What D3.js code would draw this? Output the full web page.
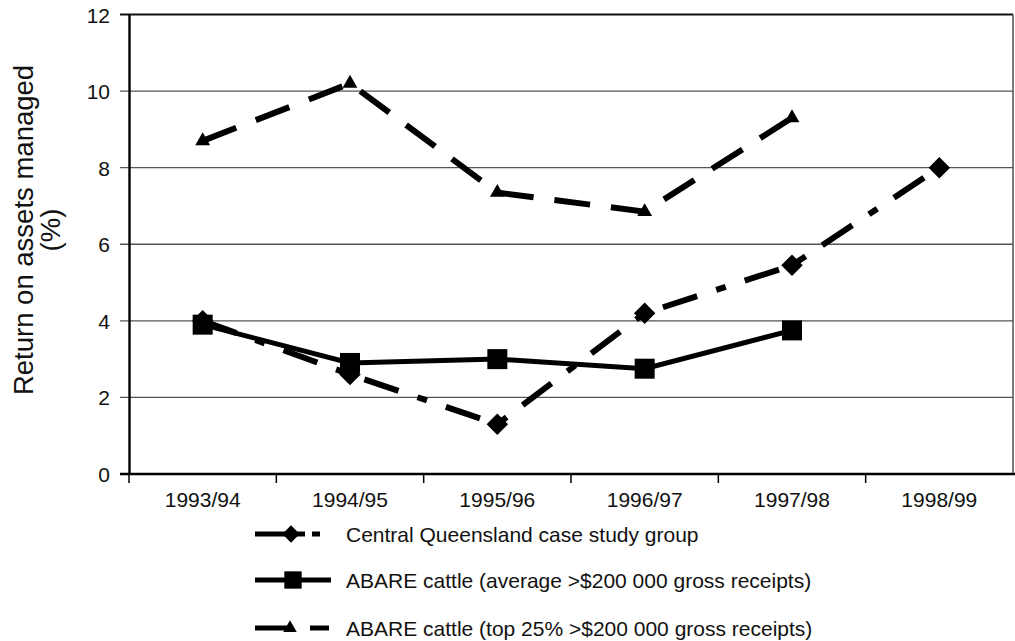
<!DOCTYPE html>
<html>
<head>
<meta charset="utf-8">
<script src="https://cdn.jsdelivr.net/npm/d3@7"></script>
<style>
  html, body { margin: 0; padding: 0; background: #fff; }
  svg { display: block; }
  text { font-family: "Liberation Sans", Arial, Helvetica, sans-serif; fill: #111; }
</style>
</head>
<body>
<svg id="chart" width="1015" height="641"></svg>
<script>
// Financial years on the category axis
const years = ["1993/94", "1994/95", "1995/96", "1996/97", "1997/98", "1998/99"];

// Return on assets managed (%) per year; null = no figure for that year
const centralQld = [4.0, 2.6, 1.3, 4.2, 5.45, 8.0];
const abareAverage = [3.9, 2.9, 3.0, 2.75, 3.75, null];
const abareTop25 = [8.7, 10.2, 7.35, 6.85, 9.3, null];

const yTicks = [0, 2, 4, 6, 8, 10, 12];

const seriesNames = [
  "Central Queensland case study group",
  "ABARE cattle (average >$200 000 gross receipts)",
  "ABARE cattle (top 25% >$200 000 gross receipts)"
];

const svg = d3.select("#chart");

const plot = { left: 129, right: 1013, top: 14.5, bottom: 474 };

const x = d3.scaleBand().domain(years).range([plot.left, plot.right]);
const y = d3.scaleLinear().domain([0, 12]).range([plot.bottom, plot.top]);
const cx = d => x(d) + x.bandwidth() / 2;

// Horizontal gridlines (with their tick stubs to the left of the axis)
svg.append("g").selectAll("line")
  .data(yTicks.filter(t => t > 0))
  .join("line")
  .attr("x1", plot.left - 9).attr("x2", plot.right)
  .attr("y1", d => y(d)).attr("y2", d => y(d))
  .attr("stroke", d => d === 12 ? "#111" : "#555")
  .attr("stroke-width", d => d === 12 ? 2.2 : 1.4);

// Right edge of the plot area
svg.append("line")
  .attr("x1", plot.right).attr("x2", plot.right)
  .attr("y1", y(12)).attr("y2", y(0))
  .attr("stroke", "#444").attr("stroke-width", 1.4);

// Y axis
const yAxis = d3.axisLeft(y).tickValues(yTicks).tickSize(0).tickPadding(0);
const gy = svg.append("g").attr("transform", `translate(${plot.left},0)`).call(yAxis);
gy.select(".domain").attr("stroke", "#000").attr("stroke-width", 2.4);
gy.selectAll(".tick text")
  .attr("x", 110 - plot.left)
  .attr("dy", "0.36em")
  .attr("font-size", 21)
  .attr("font-family", "Liberation Sans, Arial, sans-serif")
  .attr("fill", "#111");

// X axis with ticks at the category boundaries
const boundaries = years.map(d => x(d)).concat([plot.right]);
svg.append("line")
  .attr("x1", plot.left - 9).attr("x2", 1015)
  .attr("y1", plot.bottom).attr("y2", plot.bottom)
  .attr("stroke", "#000").attr("stroke-width", 2.6);
svg.append("g").selectAll("line")
  .data(boundaries.slice(0, 6))
  .join("line")
  .attr("x1", d => d).attr("x2", d => d)
  .attr("y1", plot.bottom).attr("y2", plot.bottom + 9)
  .attr("stroke", "#000").attr("stroke-width", 1.5);
svg.append("g").selectAll("text")
  .data(years)
  .join("text")
  .attr("x", d => cx(d))
  .attr("y", 507)
  .attr("text-anchor", "middle")
  .attr("font-size", 21)
  .text(d => d);

// Y axis title
const title = svg.append("text")
  .attr("transform", "translate(33,230) rotate(-90)")
  .attr("text-anchor", "middle")
  .attr("font-size", 27.5);
title.append("tspan").attr("x", 0).attr("y", 0).text("Return on assets managed");
title.append("tspan").attr("x", 0).attr("y", 27).text("(%)");

// Series definitions
const series = [
  { name: seriesNames[2], values: abareTop25, dash: "36,21", width: 6, marker: "triangle", size: 95 },
  { name: seriesNames[0], values: centralQld, dash: "36,20,10,20", width: 6, marker: "diamond", size: 230 },
  { name: seriesNames[1], values: abareAverage, dash: null, width: 5, marker: "square", size: 400 }
];

const symbolOf = {
  triangle: d3.symbolTriangle,
  diamond: d3.symbolSquare,
  square: d3.symbolSquare
};

const lineGen = d3.line()
  .defined(d => d.v !== null)
  .x(d => cx(d.year))
  .y(d => y(d.v));

series.forEach(s => {
  const pts = years.map((yr, i) => ({ year: yr, v: s.values[i] }));
  const g = svg.append("g");
  g.append("path")
    .datum(pts)
    .attr("d", lineGen)
    .attr("fill", "none")
    .attr("stroke", "#000")
    .attr("stroke-width", s.width)
    .attr("stroke-dasharray", s.dash)
    .attr("stroke-linejoin", "miter");
  g.selectAll("path.marker")
    .data(pts.filter(d => d.v !== null))
    .join("path")
    .attr("class", "marker")
    .attr("d", d3.symbol().type(symbolOf[s.marker]).size(s.size))
    .attr("transform", d => `translate(${cx(d.year)},${y(d.v)})` + (s.marker === "diamond" ? " rotate(45)" : ""))
    .attr("fill", "#000");
});

// Legend
const legendRows = [
  { name: seriesNames[0], y: 534, segs: [[255, 305], [312, 320]], marker: "diamond", mx: 291, size: 150 },
  { name: seriesNames[1], y: 580, segs: [[255, 331]], marker: "square", mx: 293, size: 300 },
  { name: seriesNames[2], y: 628, segs: [[255, 293], [310, 329]], marker: "triangle", mx: 290, size: 80 }
];
const lg = svg.append("g");
legendRows.forEach(r => {
  r.segs.forEach(([a, b]) => {
    lg.append("line")
      .attr("x1", a).attr("x2", b)
      .attr("y1", r.y).attr("y2", r.y)
      .attr("stroke", "#000").attr("stroke-width", 5);
  });
  lg.append("path")
    .attr("d", d3.symbol().type(symbolOf[r.marker]).size(r.size))
    .attr("transform", `translate(${r.mx},${r.y})` + (r.marker === "diamond" ? " rotate(45)" : ""))
    .attr("fill", "#000");
  lg.append("text")
    .attr("x", 346)
    .attr("y", r.y + 7.5)
    .attr("font-size", 21)
    .text(r.name);
});
</script>
</body>
</html>
